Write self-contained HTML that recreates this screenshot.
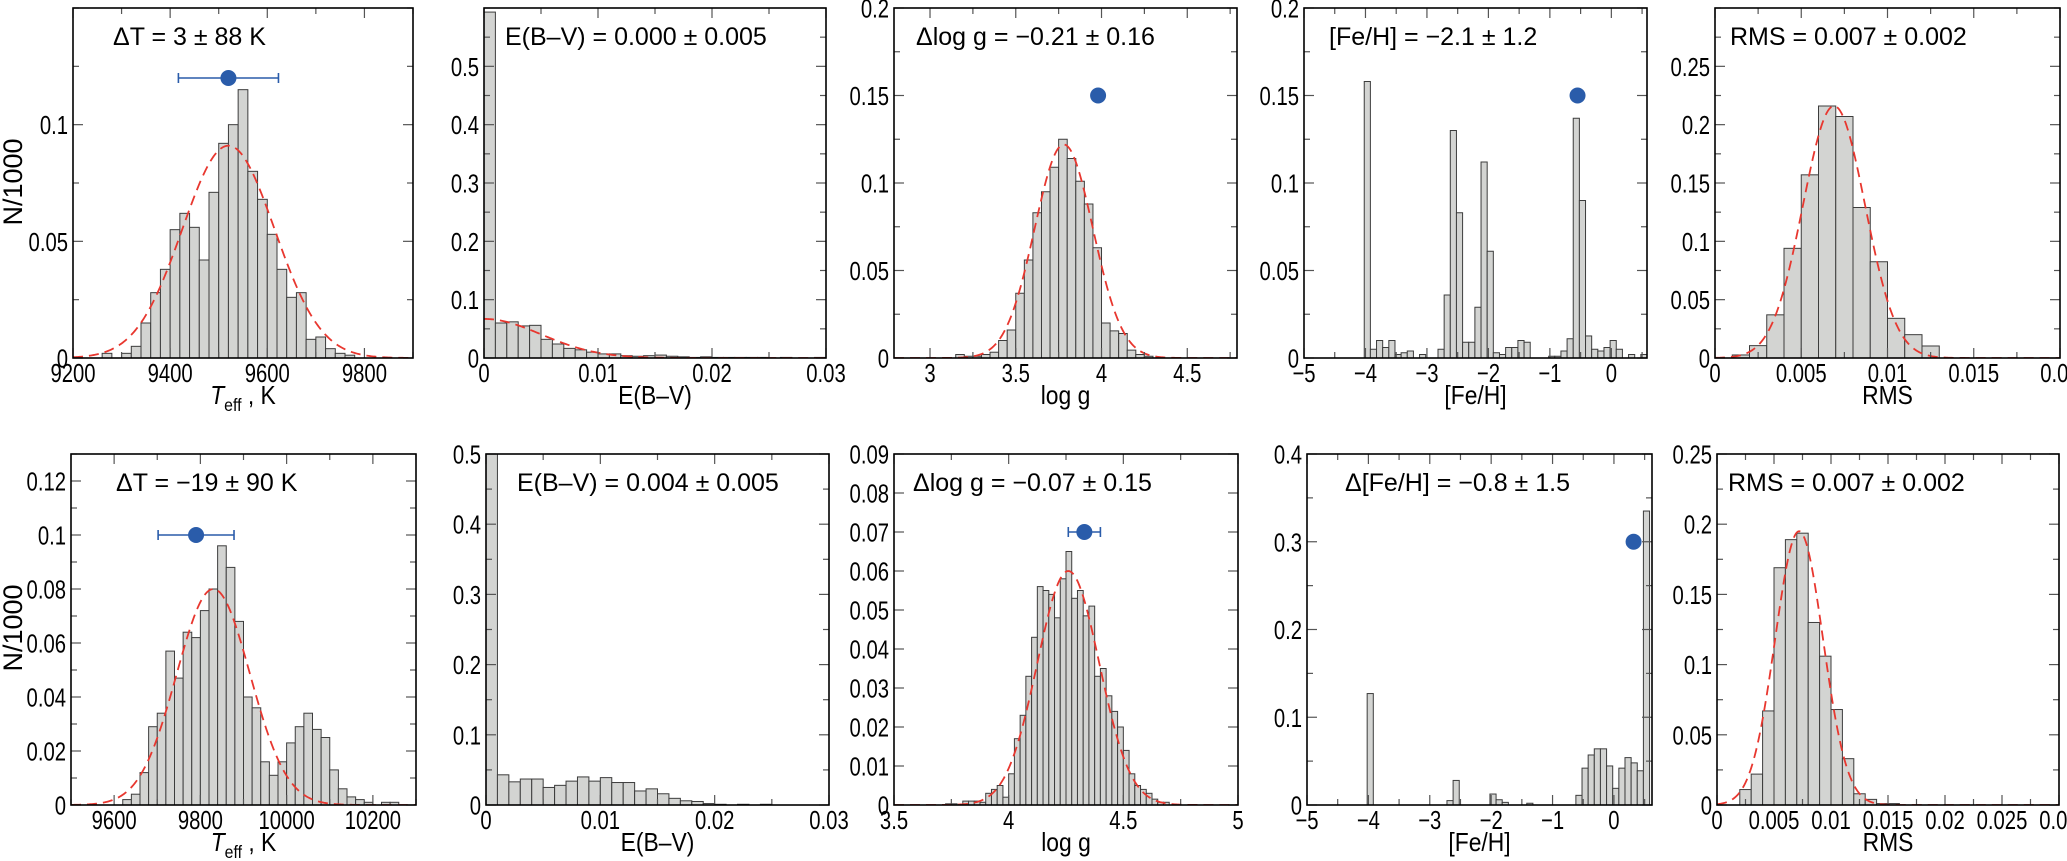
<!DOCTYPE html>
<html><head><meta charset="utf-8">
<style>
body{margin:0;background:#fff}
svg{display:block}
text{font-family:"Liberation Sans",sans-serif;fill:#000}
</style></head>
<body>
<svg id="c" width="2067" height="861" viewBox="0 0 2067 861"></svg>
<script>
// ===== Data (top row) =====
const a1Start=9260, a1Width=20;
const a1Counts=[0.002,0,0.002,0.005,0.015,0.028,0.038,0.055,0.062,0.056,0.042,0.071,0.092,0.1,0.115,0.08,0.068,0.053,0.038,0.026,0.028,0.008,0.009,0.004,0.002,0.0012];
const a1Fit=[9520,95,0.091];
const a1Point=[9520,0.12,103];

const b1Start=0, b1Width=0.001;
const b1Counts=[0.593,0.06,0.062,0.055,0.056,0.032,0.024,0.0165,0.014,0.01,0.007,0.007,0.004,0.003,0.004,0.005,0.003,0.002,0.001,0.002,0.001,0.001,0.001,0.001,0.001,0,0.001,0,0,0.001];
const b1Fit=[0,0.005,0.067];

const c1Start=3.15, c1Width=0.05;
const c1Counts=[0.002,0.001,0.001,0.002,0.0033,0.010,0.016,0.037,0.056,0.083,0.095,0.109,0.125,0.114,0.101,0.088,0.063,0.020,0.0155,0.014,0.0045,0.002,0.001];
const c1Fit=[3.78,0.17,0.122];
const c1Point=[3.98,0.15,0.02];

const d1Centers=[-3.97,-3.87,-3.77,-3.67,-3.57,-3.47,-3.37,-3.27,-3.07,-2.77,-2.67,-2.57,-2.47,-2.37,-2.27,-2.17,-2.07,-1.97,-1.87,-1.77,-1.67,-1.57,-1.47,-1.37,-0.97,-0.87,-0.77,-0.67,-0.57,-0.47,-0.37,-0.27,-0.17,-0.07,0.03,0.13,0.33,0.53];
const d1Counts=[0.158,0.005,0.01,0.006,0.01,0.002,0.003,0.004,0.002,0.005,0.036,0.13,0.083,0.009,0.009,0.029,0.112,0.061,0.003,0.002,0.006,0.006,0.01,0.009,0.001,0.001,0.004,0.011,0.137,0.09,0.0126,0.005,0.004,0.006,0.01,0.005,0.002,0.002];
const d1Width=0.1;
const d1Point=[-0.55,0.15,0];

const e1Start=0, e1Width=0.001;
const e1Counts=[0,0.0026,0.0106,0.037,0.094,0.157,0.216,0.207,0.129,0.0825,0.034,0.020,0.0103];
const e1Fit=[0.0069,0.0018,0.216];

// ===== Data (bottom row) =====
const a2Start=9620, a2Width=20;
const a2Counts=[0.002,0.004,0.012,0.029,0.034,0.057,0.047,0.064,0.062,0.072,0.080,0.096,0.088,0.068,0.040,0.036,0.016,0.011,0.016,0.023,0.029,0.034,0.028,0.025,0.013,0.006,0.003,0.002,0.001,0,0.001,0.001];
const a2Fit=[9830,85,0.080];
const a2Point=[9790,0.1,88];

const b2Start=0, b2Width=0.001;
const b2Counts=[0.5,0.043,0.033,0.037,0.037,0.025,0.028,0.034,0.040,0.034,0.039,0.032,0.032,0.020,0.023,0.016,0.0095,0.006,0.005,0.002,0.001,0,0.001,0,0.001];

const c2Start=3.725, c2Width=0.025;
const c2Counts=[0.0003,0.0003,0,0.001,0.001,0.001,0.0007,0.003,0.004,0.005,0.002,0.008,0.017,0.023,0.033,0.043,0.056,0.055,0.054,0.048,0.058,0.065,0.053,0.055,0.0485,0.051,0.033,0.035,0.028,0.024,0.02,0.014,0.008,0.005,0.004,0.003,0.0015,0.0007,0.0007];
const c2Fit=[4.26,0.135,0.060];
const c2Point=[4.33,0.07,0.07];

const d2Centers=[-3.97,-2.67,-2.57,-1.97,-1.87,-1.77,-1.37,-0.57,-0.47,-0.37,-0.27,-0.17,-0.07,0.03,0.13,0.23,0.33,0.43,0.53];
const d2Counts=[0.127,0.005,0.028,0.0125,0.006,0.003,0.002,0.011,0.042,0.057,0.064,0.064,0.0445,0.019,0.042,0.054,0.048,0.039,0.335];
const d2Width=0.1;
const d2Point=[0.32,0.3,0.04];

const e2Start=0, e2Width=0.001;
const e2Counts=[0,0,0.011,0.022,0.067,0.169,0.189,0.1936,0.130,0.106,0.068,0.033,0.008,0.004,0.001,0.001];
const e2Fit=[0.0072,0.0021,0.195];

// tick values
const a1XTicks=[9200,9400,9600,9800], a1YTicks=[0,0.05,0.1];
const b1XTicks=[0,0.01,0.02,0.03], b1YTicks=[0,0.1,0.2,0.3,0.4,0.5];
const c1XTicks=[3,3.5,4,4.5], c1YTicks=[0,0.05,0.1,0.15,0.2];
const d1XTicks=[-5,-4,-3,-2,-1,0], d1YTicks=[0,0.05,0.1,0.15,0.2];
const e1XTicks=[0,0.005,0.01,0.015,0.02], e1YTicks=[0,0.05,0.1,0.15,0.2,0.25];
const a2XTicks=[9600,9800,10000,10200], a2YTicks=[0,0.02,0.04,0.06,0.08,0.1,0.12];
const b2XTicks=[0,0.01,0.02,0.03], b2YTicks=[0,0.1,0.2,0.3,0.4,0.5];
const c2XTicks=[3.5,4,4.5,5], c2YTicks=[0,0.01,0.02,0.03,0.04,0.05,0.06,0.07,0.08,0.09];
const d2XTicks=[-5,-4,-3,-2,-1,0], d2YTicks=[0,0.1,0.2,0.3,0.4];
const e2XTicks=[0,0.005,0.01,0.015,0.02,0.025,0.03], e2YTicks=[0,0.05,0.1,0.15,0.2,0.25];

const NS='http://www.w3.org/2000/svg';
const svg=document.getElementById('c');
function mk(tag,attrs,parent){const e=document.createElementNS(NS,tag);for(const k in attrs)e.setAttribute(k,attrs[k]);(parent||svg).appendChild(e);return e;}
function fmt(v){let s=String(Math.round(v*100000)/100000);return s.replace('-','\u2212');}
let clipId=0;

function drawPanel(p){
  const g=mk('g',{});
  
  
  const sx=v=>p.x0+(v-p.xd[0])/(p.xd[1]-p.xd[0])*(p.x1-p.x0);
  const sy=v=>p.y1-(v-p.yd[0])/(p.yd[1]-p.yd[0])*(p.y1-p.y0);
  const cid='clip'+(clipId++);
  const cp=mk('clipPath',{id:cid},g);
  mk('rect',{x:p.x0,y:p.y0,width:p.x1-p.x0,height:p.y1-p.y0},cp);
  const plot=mk('g',{'clip-path':'url(#'+cid+')'},g);
  for(let i=0;i<p.counts.length;i++){
    const v=p.counts[i]; if(v<=0) continue;
    const left=p.centers? p.centers[i]-p.w/2 : p.start+i*p.w;
    const xa=sx(left), xb=sx(left+p.w), yt=sy(v);
    const r=mk('rect',{x:xa,y:yt,width:xb-xa,height:p.y1-yt,fill:'#d3d4d2',stroke:'#3c3c3c','stroke-width':1},plot);
    
    
  }
  if(p.fit){
    const [m,s,a]=p.fit; let d='';
    for(let k=0;k<=300;k++){const x=p.xd[0]+(p.xd[1]-p.xd[0])*k/300;const y=a*Math.exp(-(x-m)*(x-m)/(2*s*s));d+=(k?'L':'M')+sx(x).toFixed(2)+','+sy(y).toFixed(2);}
    const c=mk('path',{d:d,fill:'none',stroke:'#e8372f','stroke-width':1.8,'stroke-dasharray':'10,6'},plot);
    
    
  }
  if(p.pt){
    const [px,py,pe]=p.pt; const cx=sx(px), cy=sy(py);
    if(pe>0){
      const eb=mk('g',{stroke:'#2a5caa','stroke-width':1.6},g);
      
      
      mk('line',{x1:sx(px-pe),x2:sx(px+pe),y1:cy,y2:cy},eb);
      mk('line',{x1:sx(px-pe),x2:sx(px-pe),y1:cy-5,y2:cy+5},eb);
      mk('line',{x1:sx(px+pe),x2:sx(px+pe),y1:cy-5,y2:cy+5},eb);
    }
    const dot=mk('circle',{cx:cx,cy:cy,r:8,fill:'#2a5caa'},g);
    
    
  }
  const tg=mk('g',{stroke:'#555','stroke-width':1.2},g);
  
  
  const eps=1e-9;
  for(let v=p.xMinorStart;v<=p.xd[1]+eps;v+=p.xMinor){
    if(v<p.xd[0]-eps) continue;
    const major=p.xt.some(t=>Math.abs(t-v)<p.xMinor/10);
    const L=major?10:6, x=sx(v);
    mk('line',{x1:x,x2:x,y1:p.y1,y2:p.y1-L},tg);
    mk('line',{x1:x,x2:x,y1:p.y0,y2:p.y0+L},tg);
  }
  for(let v=p.yd[0];v<=p.yd[1]+eps;v+=p.yMinor){
    const major=p.yt.some(t=>Math.abs(t-v)<p.yMinor/10);
    const L=major?10:6, y=sy(v);
    mk('line',{x1:p.x0,x2:p.x0+L,y1:y,y2:y},tg);
    mk('line',{x1:p.x1,x2:p.x1-L,y1:y,y2:y},tg);
  }
  const fr=mk('rect',{x:p.x0,y:p.y0,width:p.x1-p.x0,height:p.y1-p.y0,fill:'none',stroke:'#000','stroke-width':1.6},g);
  
  
  p.xt.forEach(v=>{
    const t=mk('text',{transform:'translate('+sx(v)+','+(p.y1+24)+') scale(0.78,1)','text-anchor':'middle','font-size':26},g);
    t.textContent=fmt(v);
    
    
  });
  p.yt.forEach(v=>{
    const t=mk('text',{transform:'translate('+(p.x0-5)+','+(sy(v)+9.5)+') scale(0.78,1)','text-anchor':'end','font-size':26},g);
    t.textContent=fmt(v);
    
    
  });
  const an=mk('text',{x:p.x0+p.annDx,y:p.y0+37,'font-size':25},g);
  an.textContent=p.ann;
  
  
  const tx=mk('text',{transform:'translate('+((p.x0+p.x1)/2)+','+(p.y1+46)+') scale(0.88,1)','text-anchor':'middle','font-size':26},g);
  
  
  if(p.xtitle==='teff'){
    const t1=mk('tspan',{'font-style':'italic'},tx);t1.textContent='T';
    const t2=mk('tspan',{'font-size':18,dy:7},tx);t2.textContent='eff';
    const t3=mk('tspan',{dy:-7},tx);t3.textContent=' , K';
  } else tx.textContent=p.xtitle;
}

const cols=[
 {name:'panel-teff-top',x0:73,x1:413,y0:8,y1:358,xd:[9200,9900],yd:[0,0.15],start:a1Start,w:a1Width,counts:a1Counts,fit:a1Fit,pt:a1Point,xt:a1XTicks,yt:a1YTicks,xMinorStart:9200,xMinor:100,yMinor:0.025,ann:'\u0394T =  3 \u00b1 88 K',annDx:40,xtitle:'teff'},
 {name:'panel-ebv-top',x0:484,x1:826,y0:8,y1:358,xd:[0,0.03],yd:[0,0.6],start:b1Start,w:b1Width,counts:b1Counts,fit:b1Fit,xt:b1XTicks,yt:b1YTicks,xMinorStart:0,xMinor:0.005,yMinor:0.05,ann:'E(B\u2013V) = 0.000 \u00b1 0.005',annDx:21,xtitle:'E(B\u2013V)'},
 {name:'panel-logg-top',x0:894,x1:1237,y0:8,y1:358,xd:[2.79,4.79],yd:[0,0.2],start:c1Start,w:c1Width,counts:c1Counts,fit:c1Fit,pt:c1Point,xt:c1XTicks,yt:c1YTicks,xMinorStart:3,xMinor:0.25,yMinor:0.025,ann:'\u0394log g = \u22120.21 \u00b1 0.16',annDx:22,xtitle:'log g'},
 {name:'panel-feh-top',x0:1304,x1:1647,y0:8,y1:358,xd:[-5,0.58],yd:[0,0.2],centers:d1Centers,w:d1Width,counts:d1Counts,pt:d1Point,xt:d1XTicks,yt:d1YTicks,xMinorStart:-5,xMinor:0.5,yMinor:0.025,ann:'[Fe/H] = \u22122.1 \u00b1 1.2',annDx:25,xtitle:'[Fe/H]'},
 {name:'panel-rms-top',x0:1715,x1:2060,y0:8,y1:358,xd:[0,0.02],yd:[0,0.3],start:e1Start,w:e1Width,counts:e1Counts,fit:e1Fit,xt:e1XTicks,yt:e1YTicks,xMinorStart:0,xMinor:0.0025,yMinor:0.025,ann:'RMS = 0.007 \u00b1 0.002',annDx:15,xtitle:'RMS'},
 {name:'panel-teff-bottom',x0:71,x1:416,y0:454,y1:805,xd:[9500,10300],yd:[0,0.13],start:a2Start,w:a2Width,counts:a2Counts,fit:a2Fit,pt:a2Point,xt:a2XTicks,yt:a2YTicks,xMinorStart:9500,xMinor:100,yMinor:0.01,ann:'\u0394T = \u221219 \u00b1 90 K',annDx:45,xtitle:'teff'},
 {name:'panel-ebv-bottom',x0:486,x1:829,y0:454,y1:805,xd:[0,0.03],yd:[0,0.5],start:b2Start,w:b2Width,counts:b2Counts,xt:b2XTicks,yt:b2YTicks,xMinorStart:0,xMinor:0.005,yMinor:0.05,ann:'E(B\u2013V) = 0.004 \u00b1 0.005',annDx:31,xtitle:'E(B\u2013V)'},
 {name:'panel-logg-bottom',x0:894,x1:1238,y0:454,y1:805,xd:[3.5,5],yd:[0,0.09],start:c2Start,w:c2Width,counts:c2Counts,fit:c2Fit,pt:c2Point,xt:c2XTicks,yt:c2YTicks,xMinorStart:3.5,xMinor:0.25,yMinor:0.01,ann:'\u0394log g = \u22120.07 \u00b1 0.15',annDx:19,xtitle:'log g'},
 {name:'panel-feh-bottom',x0:1307,x1:1652,y0:454,y1:805,xd:[-5,0.62],yd:[0,0.4],centers:d2Centers,w:d2Width,counts:d2Counts,pt:d2Point,xt:d2XTicks,yt:d2YTicks,xMinorStart:-5,xMinor:0.5,yMinor:0.05,ann:'\u0394[Fe/H] = \u22120.8 \u00b1 1.5',annDx:38,xtitle:'[Fe/H]'},
 {name:'panel-rms-bottom',x0:1717,x1:2059,y0:454,y1:805,xd:[0,0.03],yd:[0,0.25],start:e2Start,w:e2Width,counts:e2Counts,fit:e2Fit,xt:e2XTicks,yt:e2YTicks,xMinorStart:0,xMinor:0.0025,yMinor:0.025,ann:'RMS = 0.007 \u00b1 0.002',annDx:11,xtitle:'RMS'}
];
cols.forEach(drawPanel);

[[182],[628]].forEach(([cy])=>{
  const t=mk('text',{transform:'translate(22,'+cy+') rotate(-90)','text-anchor':'middle','font-size':27});
  t.textContent='N/1000';
  
  
});
</script>
</body></html>
